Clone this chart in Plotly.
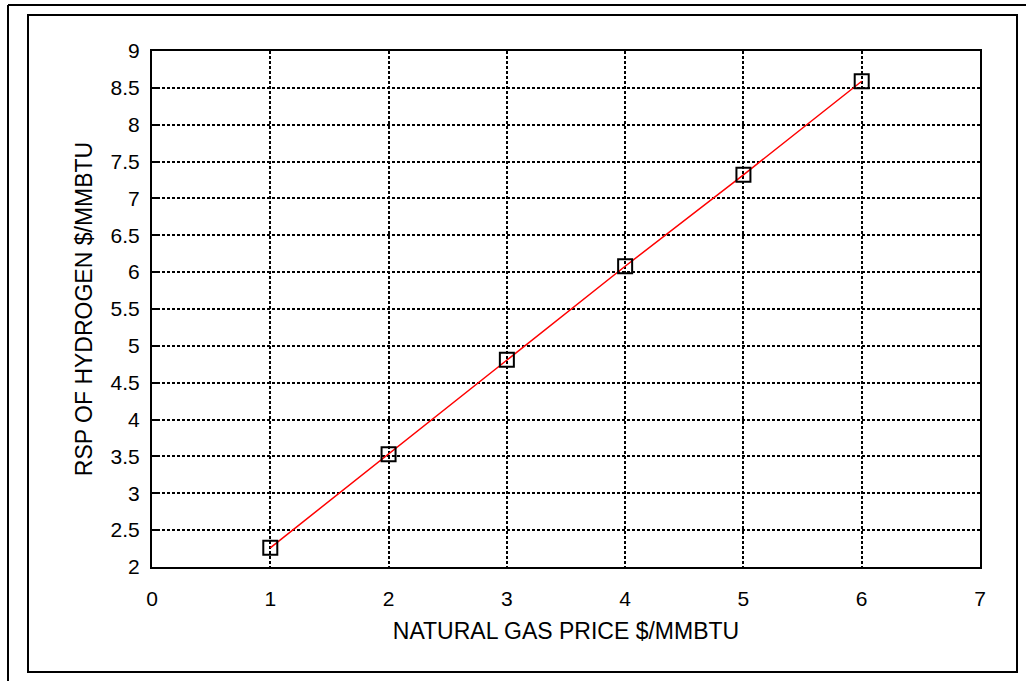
import plotly.graph_objects as go

gas_price = [1, 2, 3, 4, 5, 6]
rsp_hydrogen = [2.26, 3.53, 4.81, 6.08, 7.32, 8.59]

W, H = 1026, 681
L, R, T, B = 152, 980, 51, 567

def px(x):
    return (x - L) / (R - L)

def py(y):
    return (B - y) / (B - T)

fig = go.Figure()
fig.add_trace(go.Scatter(
    x=gas_price, y=rsp_hydrogen, mode="lines+markers",
    line=dict(color="#ff0000", width=1.5),
    marker=dict(symbol="square-open", size=14, color="black", line=dict(width=2, color="black")),
    showlegend=False, cliponaxis=False,
))

font = "Liberation Sans, Arial, sans-serif"
axis_common = dict(
    showgrid=True, gridcolor="black", gridwidth=2, griddash="3px,2px",
    showline=True, linecolor="black", linewidth=2, mirror=True,
    zeroline=False, tickfont=dict(family=font, size=21, color="black"),
)

fig.update_layout(
    width=W, height=H, autosize=False,
    margin=dict(l=L, r=W - R, t=T, b=H - B),
    paper_bgcolor="white", plot_bgcolor="white",
    font=dict(family=font, color="black"),
    xaxis=dict(range=[0, 7], dtick=1, tick0=0, ticks="", ticklen=0, ticklabelstandoff=12,
               title=dict(text="NATURAL GAS PRICE $/MMBTU", font=dict(size=23, family=font), standoff=14),
               **axis_common),
    yaxis=dict(range=[2, 9], dtick=0.5, tick0=2, ticks="inside", ticklen=6, tickwidth=2, tickcolor="black",
               ticklabelstandoff=6,
               title=dict(text="RSP OF HYDROGEN $/MMBTU", font=dict(size=23, family=font), standoff=12),
               **axis_common),
    shapes=[
        dict(type="rect", xref="paper", yref="paper", x0=px(28), x1=px(1017), y0=py(672), y1=py(15),
             line=dict(color="black", width=2), layer="below"),
        dict(type="line", xref="paper", yref="paper", x0=px(8), x1=px(1040), y0=py(5), y1=py(5),
             line=dict(color="black", width=2)),
        dict(type="line", xref="paper", yref="paper", x0=px(8), x1=px(8), y0=py(5), y1=py(700),
             line=dict(color="black", width=2)),
    ],
)

fig.write_html("out.html", config={"displayModeBar": False},
               post_script="document.body.style.margin='0';document.body.style.overflow='hidden';")
